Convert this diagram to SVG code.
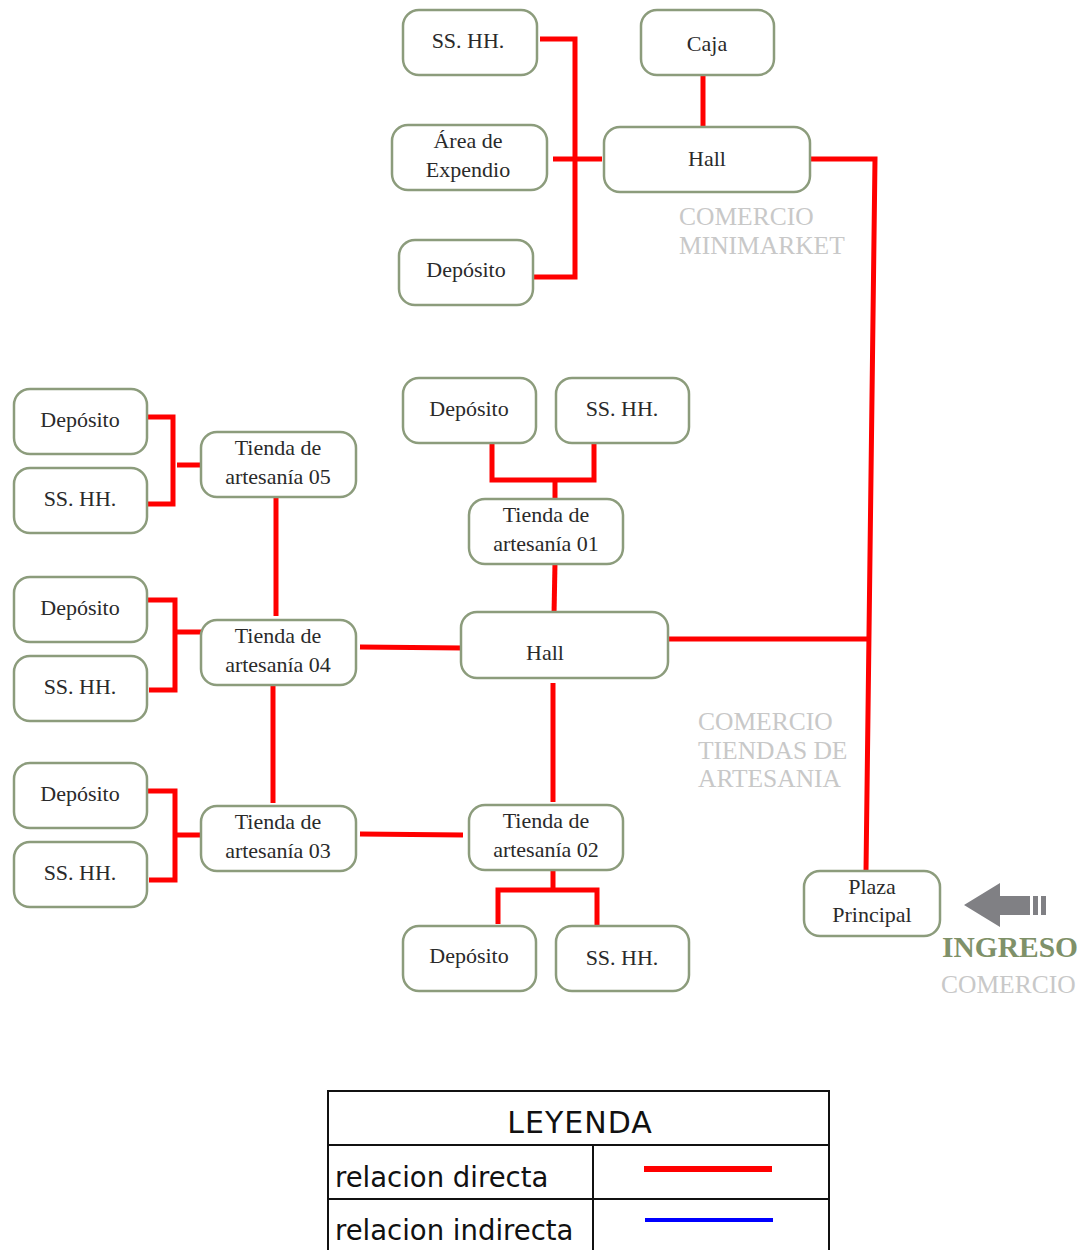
<svg xmlns="http://www.w3.org/2000/svg" width="1089" height="1250" viewBox="0 0 1089 1250">
<style>
.n rect{fill:#fff;stroke:#8c9c7c;stroke-width:2.5}
.n text{font-family:"Liberation Serif","Times New Roman",serif;font-size:22px;fill:#2a2a2a;text-anchor:middle}
.c{fill:none;stroke:#ff0000;stroke-width:5}
.g{font-family:"Liberation Serif","Times New Roman",serif;font-size:25.5px;fill:#c8c8c8}
.lg{font-family:"DejaVu Sans","Liberation Sans",sans-serif;fill:#111}
</style>
<rect width="1089" height="1250" fill="#fff"/>
<g id="connectors">
<polyline class="c" points="540,39 575,39 575,277 533,277"/>
<line class="c" x1="553" y1="159" x2="602" y2="159"/>
<line class="c" x1="703" y1="72" x2="703" y2="128"/>
<polyline class="c" points="810,159 875,159 866,871"/>
<line class="c" x1="669" y1="639" x2="869" y2="639"/>
<polyline class="c" points="147,417 173,417 173,504 147,504"/>
<line class="c" x1="177" y1="465" x2="206" y2="465"/>
<polyline class="c" points="147,600 175,600 175,690 149,690"/>
<line class="c" x1="175" y1="632" x2="205" y2="632"/>
<polyline class="c" points="147,791 175,791 175,880 149,880"/>
<line class="c" x1="175" y1="835" x2="207" y2="835"/>
<line class="c" x1="276" y1="497" x2="276" y2="616"/>
<line class="c" x1="273" y1="684" x2="273" y2="803"/>
<line class="c" x1="360" y1="647" x2="463" y2="648"/>
<line class="c" x1="360" y1="834" x2="463" y2="835"/>
<polyline class="c" points="492,444 492,480 594,480 594,444"/>
<line class="c" x1="555" y1="480" x2="555" y2="502"/>
<line class="c" x1="555" y1="563" x2="554" y2="615"/>
<line class="c" x1="553" y1="683" x2="553" y2="802"/>
<line class="c" x1="553" y1="835" x2="553" y2="890"/>
<polyline class="c" points="498,924 498,890 597,890 597,927"/>
</g>
<g id="n-sshh-top" class="n"><rect x="403" y="10" width="134" height="65" rx="16"/><text x="468" y="48">SS. HH.</text></g>
<g id="n-caja" class="n"><rect x="641" y="10" width="133" height="65" rx="16"/><text x="707" y="51">Caja</text></g>
<g id="n-area" class="n"><rect x="392" y="125" width="155" height="65" rx="16"/><text x="468" y="148">Área de</text><text x="468" y="177">Expendio</text></g>
<g id="n-hall-top" class="n"><rect x="604" y="127" width="206" height="65" rx="16"/><text x="707" y="166">Hall</text></g>
<g id="n-deposito-top" class="n"><rect x="399" y="240" width="134" height="65" rx="16"/><text x="466" y="277">Depósito</text></g>
<g id="n-dep-l1" class="n"><rect x="14" y="389" width="133" height="65" rx="16"/><text x="80" y="427">Depósito</text></g>
<g id="n-sshh-l1" class="n"><rect x="14" y="468" width="133" height="65" rx="16"/><text x="80" y="506">SS. HH.</text></g>
<g id="n-tienda05" class="n"><rect x="201" y="432" width="155" height="65" rx="16"/><text x="278" y="455">Tienda de</text><text x="278" y="484">artesanía 05</text></g>
<g id="n-dep-l2" class="n"><rect x="14" y="577" width="133" height="65" rx="16"/><text x="80" y="615">Depósito</text></g>
<g id="n-sshh-l2" class="n"><rect x="14" y="656" width="133" height="65" rx="16"/><text x="80" y="694">SS. HH.</text></g>
<g id="n-tienda04" class="n"><rect x="201" y="620" width="155" height="65" rx="16"/><text x="278" y="643">Tienda de</text><text x="278" y="672">artesanía 04</text></g>
<g id="n-dep-l3" class="n"><rect x="14" y="763" width="133" height="65" rx="16"/><text x="80" y="801">Depósito</text></g>
<g id="n-sshh-l3" class="n"><rect x="14" y="842" width="133" height="65" rx="16"/><text x="80" y="880">SS. HH.</text></g>
<g id="n-tienda03" class="n"><rect x="201" y="806" width="155" height="65" rx="16"/><text x="278" y="829">Tienda de</text><text x="278" y="858">artesanía 03</text></g>
<g id="n-dep-c" class="n"><rect x="403" y="378" width="133" height="65" rx="16"/><text x="469" y="416">Depósito</text></g>
<g id="n-sshh-c" class="n"><rect x="556" y="378" width="133" height="65" rx="16"/><text x="622" y="416">SS. HH.</text></g>
<g id="n-tienda01" class="n"><rect x="469" y="499" width="154" height="65" rx="16"/><text x="546" y="522">Tienda de</text><text x="546" y="551">artesanía 01</text></g>
<g id="n-hall2" class="n"><rect x="461" y="612" width="207" height="66" rx="16"/><text x="545" y="660">Hall</text></g>
<g id="n-tienda02" class="n"><rect x="469" y="805" width="154" height="65" rx="16"/><text x="546" y="828">Tienda de</text><text x="546" y="857">artesanía 02</text></g>
<g id="n-dep-b" class="n"><rect x="403" y="926" width="133" height="65" rx="16"/><text x="469" y="963">Depósito</text></g>
<g id="n-sshh-b" class="n"><rect x="556" y="926" width="133" height="65" rx="16"/><text x="622" y="965">SS. HH.</text></g>
<g id="n-plaza" class="n"><rect x="804" y="871" width="136" height="65" rx="16"/><text x="872" y="894">Plaza</text><text x="872" y="922">Principal</text></g>
<g id="labels">
<text class="g" x="679" y="225">COMERCIO</text>
<text class="g" x="679" y="254">MINIMARKET</text>
<text class="g" x="698" y="730">COMERCIO</text>
<text class="g" x="698" y="759">TIENDAS DE</text>
<text class="g" x="698" y="787">ARTESANIA</text>
<text x="942" y="957" font-family="Liberation Serif,Times New Roman,serif" font-size="29.5" font-weight="bold" fill="#7f9169">INGRESO</text>
<text class="g" x="941" y="993">COMERCIO</text>
</g>
<g id="ingreso-arrow" fill="#808084">
<polygon points="964,905 1000,883 1000,896 1030,896 1030,915 1000,915 1000,927"/>
<rect x="1033" y="896" width="5" height="19"/>
<rect x="1041" y="896" width="5" height="19"/>
</g>
<g id="legend">
<rect x="328" y="1091" width="501" height="170" fill="none" stroke="#111" stroke-width="2"/>
<line x1="328" y1="1145" x2="829" y2="1145" stroke="#111" stroke-width="2"/>
<line x1="328" y1="1199" x2="829" y2="1199" stroke="#111" stroke-width="2"/>
<line x1="593" y1="1145" x2="593" y2="1250" stroke="#111" stroke-width="2"/>
<text class="lg" x="580" y="1133" font-size="30" text-anchor="middle" letter-spacing="1">LEYENDA</text>
<text class="lg" x="335" y="1187" font-size="27.5">relacion directa</text>
<text class="lg" x="335" y="1240" font-size="27.5">relacion indirecta</text>
<line x1="644" y1="1169" x2="772" y2="1169" stroke="#ff0000" stroke-width="6"/>
<line x1="645" y1="1220" x2="773" y2="1220" stroke="#0000ff" stroke-width="4"/>
</g>
</svg>
